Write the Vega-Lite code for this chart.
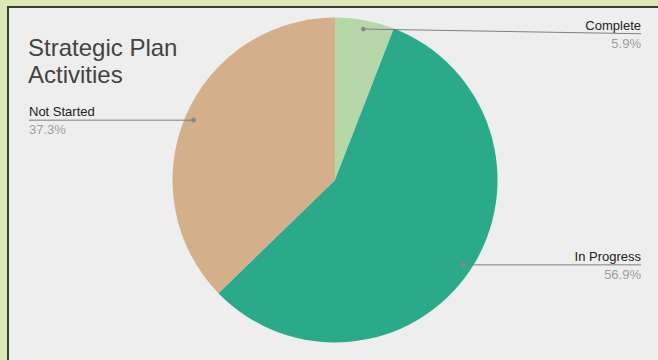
{
  "$schema": "https://vega.github.io/schema/vega-lite/v6.json",
  "width": 654,
  "height": 356,
  "autosize": {"type": "none"},
  "padding": {"left": 8, "top": 7, "right": 0, "bottom": 0},
  "background": "#dde8b9",
  "config": {
    "font": "Liberation Sans",
    "view": {"fill": "#eeeeee", "stroke": "#3b3e30", "strokeWidth": 2}
  },
  "title": {
    "text": ["Strategic Plan", "Activities"],
    "anchor": "start",
    "frame": "group",
    "orient": "top",
    "offset": 0,
    "baseline": "alphabetic",
    "dx": 20,
    "dy": 100,
    "fontSize": 24,
    "fontWeight": "normal",
    "lineHeight": 27,
    "color": "#434343",
    "font": "Liberation Sans"
  },
  "data": {
    "values": [
      {"status": "Complete", "pct": 5.9},
      {"status": "In Progress", "pct": 56.9},
      {"status": "Not Started", "pct": 37.3}
    ]
  },
  "layer": [
    {
      "mark": {"type": "arc", "radius": 162.5},
      "encoding": {
        "theta": {"field": "pct", "type": "quantitative", "stack": true},
        "color": {
          "field": "status",
          "type": "nominal",
          "scale": {"domain": ["Complete", "In Progress", "Not Started"], "range": ["#b6d7a8", "#2aa98b", "#d3b08a"]},
          "legend": null
        },
        "x": {"datum": 0, "type": "quantitative", "scale": {"domain": [-2.0123, 2.0123], "nice": false, "zero": false}, "axis": null},
        "y": {"datum": 0, "type": "quantitative", "scale": {"domain": [-1.1262, 1.0646], "nice": false, "zero": false}, "axis": null}
      }
    },
    {
      "transform": [
        {"joinaggregate": [{"op": "sum", "field": "pct", "as": "total"}]},
        {"window": [{"op": "sum", "field": "pct", "as": "cum"}], "sort": [{"field": "status"}], "frame": [null, 0]},
        {"calculate": "2*PI*(datum.cum - datum.pct/2)/datum.total", "as": "mid"},
        {"calculate": "0.945*sin(datum.mid)", "as": "dx"},
        {"calculate": "0.945*cos(datum.mid)", "as": "dy"},
        {"calculate": "datum.dx > 0 ? 1.8831 : -1.8831", "as": "lx"},
        {"calculate": "min(datum.dy, 0.9)", "as": "ly"},
        {"calculate": "format(datum.pct, '.1f') + '%'", "as": "pctLabel"}
      ],
      "encoding": {
        "x": {"field": "dx", "type": "quantitative", "scale": {"domain": [-2.0123, 2.0123], "nice": false, "zero": false}, "axis": null},
        "y": {"field": "dy", "type": "quantitative", "scale": {"domain": [-1.1262, 1.0646], "nice": false, "zero": false}, "axis": null}
      },
      "layer": [
        {
          "mark": {"type": "rule", "color": "#7f7f7f", "strokeWidth": 1},
          "encoding": {
            "x2": {"field": "lx"},
            "y2": {"field": "ly"}
          }
        },
        {
          "mark": {"type": "point", "filled": true, "color": "#888888", "size": 22, "opacity": 1},
          "encoding": {}
        },
        {
          "transform": [{"filter": "datum.dx > 0"}],
          "mark": {"type": "text", "align": "right", "baseline": "alphabetic", "dy": -4, "fontSize": 13, "color": "#222222"},
          "encoding": {
            "x": {"field": "lx", "type": "quantitative"},
            "y": {"field": "ly", "type": "quantitative"},
            "text": {"field": "status"}
          }
        },
        {
          "transform": [{"filter": "datum.dx > 0"}],
          "mark": {"type": "text", "align": "right", "baseline": "alphabetic", "dy": 14, "fontSize": 13, "color": "#9e9e9e"},
          "encoding": {
            "x": {"field": "lx", "type": "quantitative"},
            "y": {"field": "ly", "type": "quantitative"},
            "text": {"field": "pctLabel"}
          }
        },
        {
          "transform": [{"filter": "datum.dx <= 0"}],
          "mark": {"type": "text", "align": "left", "baseline": "alphabetic", "dy": -4, "fontSize": 13, "color": "#222222"},
          "encoding": {
            "x": {"field": "lx", "type": "quantitative"},
            "y": {"field": "ly", "type": "quantitative"},
            "text": {"field": "status"}
          }
        },
        {
          "transform": [{"filter": "datum.dx <= 0"}],
          "mark": {"type": "text", "align": "left", "baseline": "alphabetic", "dy": 14, "fontSize": 13, "color": "#9e9e9e"},
          "encoding": {
            "x": {"field": "lx", "type": "quantitative"},
            "y": {"field": "ly", "type": "quantitative"},
            "text": {"field": "pctLabel"}
          }
        }
      ]
    }
  ]
}
